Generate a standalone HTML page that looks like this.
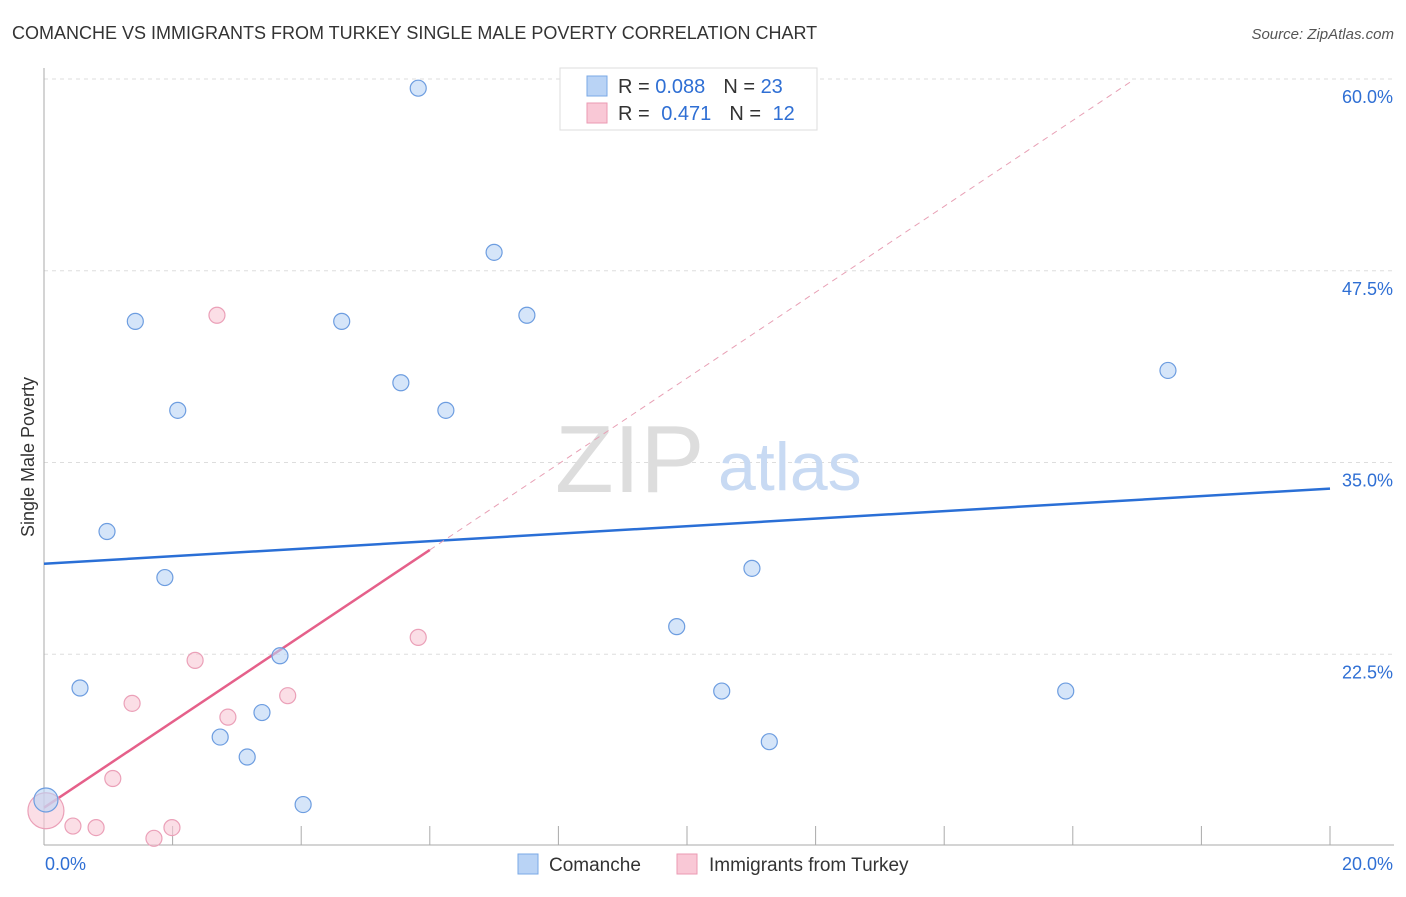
<!DOCTYPE html>
<html><head><meta charset="utf-8"><style>
body{margin:0;background:#fff;font-family:"Liberation Sans",sans-serif;}
svg text{font-family:"Liberation Sans",sans-serif;}
</style></head><body>
<svg width="1406" height="892" viewBox="0 0 1406 892">
<text x="12" y="39" font-size="18" fill="#333">COMANCHE VS IMMIGRANTS FROM TURKEY SINGLE MALE POVERTY CORRELATION CHART</text>
<text x="1394" y="39" font-size="15" fill="#555" font-style="italic" text-anchor="end">Source: ZipAtlas.com</text>
<text x="34" y="457" font-size="18" fill="#333" text-anchor="middle" transform="rotate(-90 34 457)">Single Male Poverty</text>
<g id="grid"></g>
<g id="axes"></g>
<text x="555" y="492" font-size="96" fill="#ddd" font-family="Liberation Serif">ZIP</text>
<text x="718" y="490" font-size="68" fill="#c8daf3">atlas</text>
<g id="lines"></g>
<g id="pts"></g>
<g>
<rect x="560" y="68" width="257" height="62" fill="#fff" stroke="#ddd"/>
<rect x="587" y="76" width="20" height="20" fill="#b9d3f5" stroke="#7aa8e6"/>
<rect x="587" y="103" width="20" height="20" fill="#f9c8d6" stroke="#eb9ab3"/>
<text x="618" y="93" font-size="20" fill="#333">R = <tspan fill="#2f6fd4">0.088</tspan><tspan dx="18">N = </tspan><tspan fill="#2f6fd4">23</tspan></text>
<text x="618" y="120" font-size="20" fill="#333">R = <tspan fill="#2f6fd4" dx="6">0.471</tspan><tspan dx="18">N = </tspan><tspan fill="#2f6fd4" dx="6">12</tspan></text>
</g>
<g>
<rect x="518" y="854" width="20" height="20" fill="#b9d3f5" stroke="#7aa8e6"/>
<text x="549" y="871" font-size="19" fill="#333">Comanche</text>
<rect x="677" y="854" width="20" height="20" fill="#f9c8d6" stroke="#eb9ab3"/>
<text x="709" y="871" font-size="19" fill="#333">Immigrants from Turkey</text>
</g>
</svg>
<script>
const yTicks=[22.5,35.0,47.5,60.0];
const xTickVals=[0,2,4,6,8,10,12,14,16,18,20];
const blueX=[0.03,0.56,0.98,1.42,1.88,2.08,2.74,3.16,3.39,3.67,4.03,4.63,5.55,5.82,6.25,7.0,7.51,9.84,10.54,11.01,11.28,15.89,17.48];
const blueY=[13.0,20.3,30.5,44.2,27.5,38.4,17.1,15.8,18.7,22.4,12.7,44.2,40.2,59.4,38.4,48.7,44.6,24.3,20.1,28.1,16.8,20.1,41.0];
const pinkX=[0.03,0.45,0.81,1.07,1.37,1.71,1.99,2.35,2.69,2.86,3.79,5.82];
const pinkY=[12.3,11.3,11.2,14.4,19.3,10.5,11.2,22.1,44.6,18.4,19.8,23.6];
const blueLine=[28.4,33.3];
const pinkLine=[12.5,2.8];
const NS="http://www.w3.org/2000/svg";
const X=v=>44+v/20*1286;
const Y=v=>79+(60-v)*15.34;
function mk(t,a,p){const e=document.createElementNS(NS,t);for(const k in a)e.setAttribute(k,a[k]);p.appendChild(e);return e;}
const grid=document.getElementById('grid'),axes=document.getElementById('axes');
yTicks.forEach(v=>{
 const l=mk('line',{x1:44,x2:1394,y1:Y(v),y2:Y(v),stroke:'#ddd','stroke-dasharray':'4 4'},grid);
 
 
 const t=mk('text',{x:1393,y:Y(v)+24,'font-size':18,fill:'#2f6fd4','text-anchor':'end'},axes);
 t.textContent=v.toFixed(1)+'%';
 
 
});
mk('line',{x1:44,x2:44,y1:68,y2:845,stroke:'#aaa'},axes);
mk('line',{x1:44,x2:1394,y1:845,y2:845,stroke:'#aaa'},axes);
xTickVals.forEach(v=>{
 const l=mk('line',{x1:X(v),x2:X(v),y1:826,y2:845,stroke:'#aaa'},axes);
 
 
});
const t0=mk('text',{x:45,y:870,'font-size':18,fill:'#2f6fd4'},axes);t0.textContent='0.0%';


const t1=mk('text',{x:1393,y:870,'font-size':18,fill:'#2f6fd4','text-anchor':'end'},axes);t1.textContent='20.0%';


const lines=document.getElementById('lines');
const bl=mk('line',{x1:X(0),y1:Y(blueLine[0]),x2:X(20),y2:Y(blueLine[1]),stroke:'#2a6fd6','stroke-width':2.5},lines);


const pv=x=>pinkLine[0]+pinkLine[1]*x;
const pd=mk('line',{x1:X(6),y1:Y(pv(6)),x2:X(16.9),y2:Y(pv(16.9)),stroke:'#e8a0b5','stroke-width':1,'stroke-dasharray':'6 5'},lines);


const ps=mk('line',{x1:X(0),y1:Y(pv(0)),x2:X(6),y2:Y(pv(6)),stroke:'#e5608a','stroke-width':2.5},lines);


const pts=document.getElementById('pts');
pinkX.forEach((x,i)=>{
 const c=mk('circle',{cx:X(x),cy:Y(pinkY[i]),r:i==0?18:8,fill:'rgba(249,200,214,0.6)',stroke:'#eba0b8','stroke-width':1.2},pts);
 
 
});
blueX.forEach((x,i)=>{
 const c=mk('circle',{cx:X(x),cy:Y(blueY[i]),r:i==0?12:8,fill:'rgba(185,211,245,0.6)',stroke:'#6d9de0','stroke-width':1.2},pts);
 
 
});
</script>
</body></html>
